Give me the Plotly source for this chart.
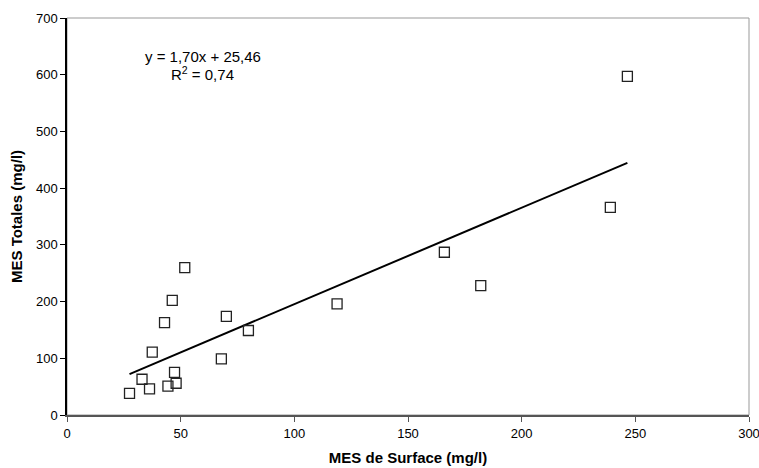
import plotly.graph_objects as go

# Data
mes_surface = [27.5, 33.0, 36.3, 37.5, 42.9, 44.4, 47.3, 48.0, 46.3, 51.8,
               67.9, 70.1, 79.8, 118.8, 166.0, 182.0, 239.0, 246.5]
mes_totales = [38, 63, 46, 111, 163, 51, 75, 56, 202, 260,
               99, 174, 149, 196, 287, 228, 366, 597]

trend_slope = 1.70
trend_intercept = 25.46
trend_label = "y = 1,70x + 25,46"
r2_label = "R<sup>2</sup> = 0,74"

x_ticks = [0, 50, 100, 150, 200, 250, 300]
y_ticks = [0, 100, 200, 300, 400, 500, 600, 700]

x_line = [min(mes_surface), max(mes_surface)]
y_line = [trend_slope * v + trend_intercept for v in x_line]

FONT = "Liberation Sans, Arial, sans-serif"

fig = go.Figure()
fig.add_trace(go.Scatter(
    x=x_line, y=y_line, mode="lines",
    line=dict(color="black", width=2), hoverinfo="skip", showlegend=False))
fig.add_trace(go.Scatter(
    x=mes_surface, y=mes_totales, mode="markers",
    marker=dict(symbol="square-open", size=10, color="#222222",
                line=dict(width=1.3, color="#222222")),
    showlegend=False))

fig.add_annotation(x=0.199, y=0.902, xref="paper", yref="paper",
                   xanchor="center", yanchor="middle",
                   text=trend_label, showarrow=False,
                   font=dict(family=FONT, size=15, color="black"))
fig.add_annotation(x=0.199, y=0.859, xref="paper", yref="paper",
                   xanchor="center", yanchor="middle",
                   text=r2_label, showarrow=False,
                   font=dict(family=FONT, size=15, color="black"))

fig.update_layout(
    width=759, height=468,
    margin=dict(l=67, r=10, t=18, b=53),
    paper_bgcolor="white", plot_bgcolor="white",
    font=dict(family=FONT, size=13, color="black"),
    shapes=[dict(type="rect", xref="paper", yref="paper", x0=0, y0=0, x1=1, y1=1,
                 line=dict(color="#999999", width=1), layer="below")],
)
fig.update_xaxes(
    range=[0, 300], tickvals=x_ticks, showgrid=False, zeroline=False,
    showline=True, linecolor="#555555", linewidth=2,
    ticks="outside", ticklen=5, tickcolor="#555555",
    ticklabeloverflow="allow", automargin=False,
    tickfont=dict(family=FONT, size=13, color="black"),
    title=dict(text="<b>MES de Surface (mg/l)</b>", standoff=13,
               font=dict(family=FONT, size=15, color="black")))
fig.update_yaxes(
    range=[0, 700], tickvals=y_ticks, showgrid=False, zeroline=False,
    showline=True, linecolor="black", linewidth=1.5,
    ticks="outside", ticklen=5, tickcolor="black",
    automargin=False,
    tickfont=dict(family=FONT, size=13, color="black"),
    title=dict(text="<b>MES Totales (mg/l)</b>", standoff=10,
               font=dict(family=FONT, size=15, color="black")))

fig.write_html("out.html")
